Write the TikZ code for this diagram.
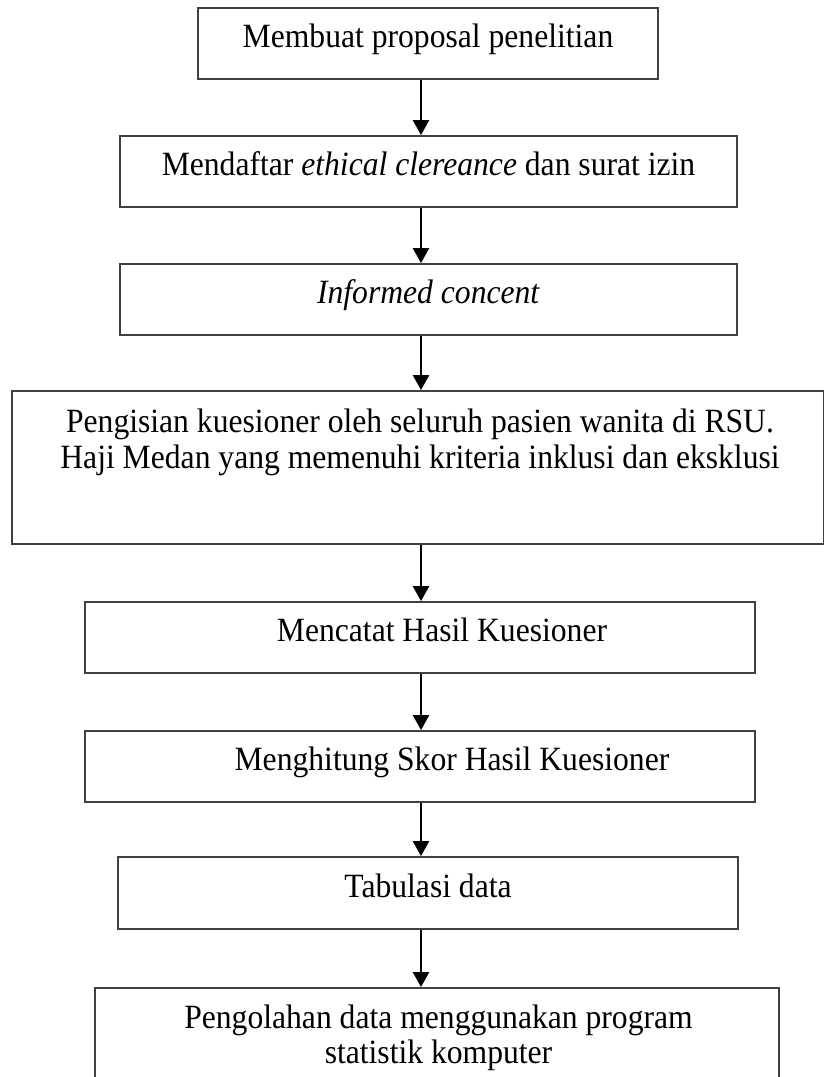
\documentclass[tikz,border=0pt]{standalone}
\usepackage{fontspec}
\setmainfont{Liberation Serif}[FakeStretch=0.93]
\usetikzlibrary{arrows.meta}
\begin{document}
\begin{tikzpicture}[x=0.5pt,y=-0.5pt,
  box/.style={draw=black!75, line width=0.9pt, rectangle, inner sep=0pt,
    font=\fontsize{17}{18}\selectfont, text height=0.7em, text depth=0.3em},
  txt/.style={font=\fontsize{17}{18}\selectfont, inner sep=0pt, align=center},
  arr/.style={draw=black, line width=1.1pt, -{Triangle[length=7.5pt,width=8pt]}}]
\clip (0,0) rectangle (824,1077);
\useasboundingbox (0,0) rectangle (824,1077);
\fill[white] (0,0) rectangle (824,1077);
% boxes
\node[box, minimum width=230pt, minimum height=35.5pt] (b1) at (428,43.5) {Membuat proposal penelitian};
\node[box, minimum width=308.5pt, minimum height=35.5pt] (b2) at (428.5,171.5) {Mendaftar \textit{ethical clereance} dan surat izin};
\node[box, minimum width=308.5pt, minimum height=35.5pt] (b3) at (428.5,299.5) {\textit{Informed concent}};
\node[box, minimum width=406pt, minimum height=76.5pt] (b4) at (418,467.5) {};
\node[txt, anchor=north] (t4) at (420,409) {Pengisian kuesioner oleh seluruh pasien wanita di RSU.\\Haji Medan yang memenuhi kriteria inklusi dan eksklusi};
\node[box, minimum width=335pt, minimum height=35.5pt] (b5) at (420,637.5) {};
\node[box, draw=none, fill=none] (t5) at (442,637.5) {Mencatat Hasil Kuesioner};
\node[box, minimum width=335pt, minimum height=35.5pt] (b6) at (420,766.5) {};
\node[box, draw=none, fill=none] (t6) at (452,766.5) {Menghitung Skor Hasil Kuesioner};
\node[box, minimum width=310pt, minimum height=36pt] (b7) at (428,893) {Tabulasi data};
\node[box, minimum width=342pt, minimum height=71pt] (b8) at (437,1059) {};
\node[txt, anchor=north, font=\fontsize{17}{17.5}\selectfont] (t8) at (438.5,1004.5) {Pengolahan data menggunakan program\\statistik komputer};
% arrows
\coordinate (ax) at (421,0);
\draw[arr] (b1.south -| ax) -- (b2.north -| ax);
\draw[arr] (b2.south -| ax) -- (b3.north -| ax);
\draw[arr] (b3.south -| ax) -- (b4.north -| ax);
\draw[arr] (b4.south -| ax) -- (b5.north -| ax);
\draw[arr] (b5.south -| ax) -- (b6.north -| ax);
\draw[arr] (b6.south -| ax) -- (b7.north -| ax);
\draw[arr] (b7.south -| ax) -- (b8.north -| ax);
\end{tikzpicture}
\end{document}
